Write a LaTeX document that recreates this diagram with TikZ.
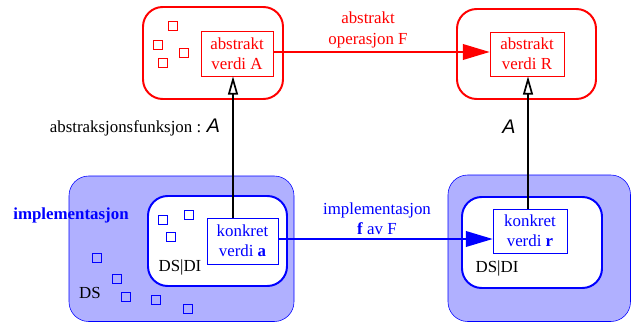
\documentclass[tikz,border=0pt]{standalone}
\usepackage{fontspec}
\setmainfont{Liberation Serif}
\newfontfamily\helvfont{Liberation Sans}
\usetikzlibrary{arrows.meta}
\definecolor{dsfill}{RGB}{176,176,255}

\tikzset{
  valbox/.style={draw, thin, align=center, inner sep=0pt, font=\fontsize{12}{14.4}\selectfont},
  spacebox/.style={rounded corners=14pt, line width=1.4pt},
  elem/.style={draw, line width=0.5pt, minimum size=0.215cm, inner sep=0pt},
  opArrow/.style={line width=1.4pt, -{Triangle[length=19pt,width=11pt]}},
  absArrow/.style={line width=1.4pt, black, -{Triangle[open,length=13pt,width=7pt,line width=1.2pt]}},
  lbl/.style={align=center, font=\fontsize{12}{14.4}\selectfont}
}
\newcommand{\absfun}{{\helvfont\itshape\fontsize{14}{16}\selectfont A}}

\begin{document}
\begin{tikzpicture}[x=0.025cm, y=-0.025cm]
  \useasboundingbox (0,0) rectangle (631,322);

  \draw[spacebox, red] (143,7) rectangle (283,99);
  \draw[spacebox, red] (457,9) rectangle (596,99);
  \draw[thin, blue, fill=dsfill, rounded corners=14pt] (69,176) rectangle (294,321.5);
  \draw[thin, blue, fill=dsfill, rounded corners=14pt] (448,175) rectangle (630.5,321.5);
  \draw[spacebox, blue, fill=white] (148,196) rectangle (287,286);
  \draw[spacebox, blue, fill=white] (462,197) rectangle (602,288);

  \node (A) [valbox, red, minimum width=1.8cm, minimum height=1.125cm] at (237,53.5) {abstrakt\\verdi A};
  \node (R) [valbox, red, minimum width=1.85cm, minimum height=1.1cm] at (527,54) {abstrakt\\verdi R};
  \node (a) [valbox, blue, fill=white, minimum width=1.775cm, minimum height=1.15cm] at (242.5,241) {konkret\\verdi \textbf{a}};
  \node (r) [valbox, blue, fill=white, minimum width=1.85cm, minimum height=1.1cm] at (530,231) {konkret\\verdi \textbf{r}};

  \node (e1) [elem, red] at (173,26) {};
  \node (e2) [elem, red] at (158,45) {};
  \node (e3) [elem, red] at (184,53) {};
  \node (e4) [elem, red] at (163,63) {};
  \node (e5) [elem, blue] at (163,220) {};
  \node (e6) [elem, blue] at (189,215) {};
  \node (e7) [elem, blue] at (171,237) {};
  \node (e8) [elem, blue] at (97,258) {};
  \node (e9) [elem, blue] at (117,279) {};
  \node (e10) [elem, blue] at (126,297) {};
  \node (e11) [elem, blue] at (156,300) {};
  \node (e12) [elem, blue] at (188,309) {};

  \node (opF) [lbl, red] at (368,30) {abstrakt\\operasjon F};
  \node (impf) [lbl, blue] at (377,219) {implementasjon\\\textbf{f} av F};
  \node (absfn) [lbl, anchor=east] at (225,128) {abstraksjonsfunksjon : \absfun};
  \node (absfnR) [lbl] at (509,127) {\absfun};
  \node (impl) [lbl, blue, font=\fontsize{12}{14.4}\selectfont\bfseries] at (71,215) {implementasjon};
  \node (dsdi1) [lbl] at (180,267) {DS|DI};
  \node (dsdi2) [lbl] at (497,268) {DS|DI};
  \node (ds) [lbl] at (90,293) {DS};

	\draw[opArrow, red] (A.east |- 0,52) to (R.west |- 0,52);
	\draw[opArrow, blue] (a.east |- 0,239) to (r.west |- 0,239);
	\draw[absArrow] (a.north -| 233,0) to (A.south -| 233,0);
	\draw[absArrow] (r.north -| 528,0) to (R.south -| 528,0);

\end{tikzpicture}
\end{document}
